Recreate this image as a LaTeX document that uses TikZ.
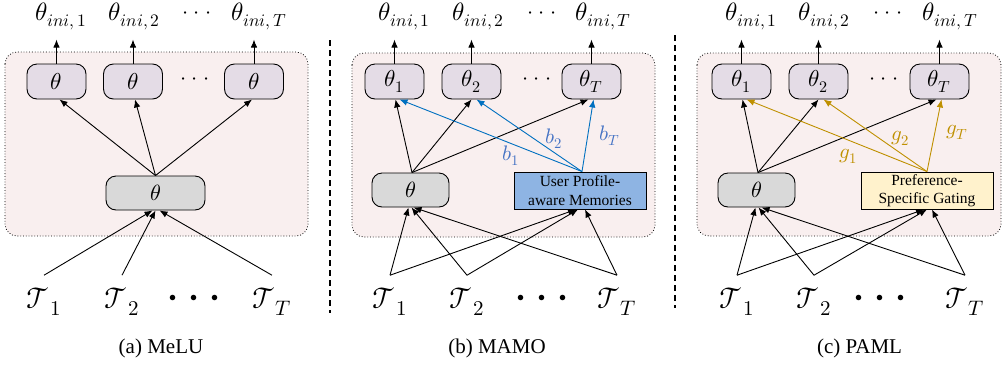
\documentclass[tikz,border=0pt]{standalone}
\usepackage{fontspec}
\usepackage{unicode-math}
\setmainfont{Liberation Serif}
\setmathfont{Latin Modern Math}
\usetikzlibrary{arrows.meta}
\definecolor{contfill}{RGB}{249,239,239}
\definecolor{topfill}{RGB}{228,220,230}
\definecolor{midfill}{RGB}{217,217,217}
\definecolor{upmfill}{RGB}{142,180,227}
\definecolor{psgfill}{RGB}{255,242,204}
\definecolor{bluearr}{RGB}{0,112,192}
\definecolor{bluelbl}{RGB}{68,114,196}
\definecolor{goldc}{RGB}{191,144,0}
\newcommand{\mydots}{$\cdot$\hspace{5pt}$\cdot$\hspace{5pt}$\cdot$}
\begin{document}
\begin{tikzpicture}[x=1pt,y=-1pt,
  arr/.style={-{Latex[length=8pt,width=6.5pt]}, line width=0.9pt},
  cont/.style={draw, dotted, line width=0.8pt, fill=contfill, rounded corners=12pt},
  topbox/.style={draw, line width=0.9pt, fill=topfill, rounded corners=10pt, minimum width=59pt, minimum height=35pt, inner sep=0pt, font=\fontsize{23}{27}\selectfont},
  midbox/.style={draw, line width=0.9pt, fill=midfill, rounded corners=10pt, minimum height=34pt, inner sep=0pt, font=\fontsize{22}{26}\selectfont},
  sidebox/.style={draw, line width=0.9pt, minimum width=132pt, minimum height=37pt, inner sep=0pt, align=center, font=\fontsize{15.5}{18.5}\selectfont},
  outlbl/.style={inner sep=0pt, outer ysep=10pt, anchor=base, font=\fontsize{25}{29}\selectfont},
  tasklbl/.style={inner sep=0pt, outer ysep=11pt, anchor=base, font=\fontsize{30}{34}\selectfont},
  dotsm/.style={inner sep=0pt, font=\fontsize{22}{26}\selectfont},
  dotsb/.style={inner sep=0pt, font=\fontsize{14}{16}\selectfont},
  wlbl/.style={inner sep=0pt, font=\fontsize{21}{25}\selectfont},
  captxt/.style={inner sep=0pt, font=\fontsize{21}{25}\selectfont},
  sepline/.style={line width=1.3pt, dash pattern=on 6pt off 4pt}
]
\useasboundingbox (0,0) rectangle (1002,368);

% separators
\draw[sepline] (330,40) -- (330,313);
\draw[sepline] (675,35) -- (675,308);

% ================= (a) MeLU =================
\draw[cont] (5,52) rectangle (308,236);
\node[topbox] (ta1) at (56.5,81.5) {$\theta$};
\node[topbox] (ta2) at (133,81.5) {$\theta$};
\node[topbox] (ta3) at (254,81.5) {$\theta$};
\node[dotsm] (tda) at (195,81.5) {\mydots};
\node[midbox, minimum width=99pt] (ca) at (155.5,193) {$\theta$};
\node[outlbl] (oa1) at (61,20) {$\theta_{ini,\,1}$};
\node[outlbl] (oa2) at (134.5,20) {$\theta_{ini,\,2}$};
\node[outlbl] (oa3) at (259,20) {$\theta_{ini,\,T}$};
\node[dotsm] (oda) at (197,15) {\mydots};
\node[tasklbl] (Ta1) at (44,308) {$\mathcal{T}_1$};
\node[tasklbl] (Ta2) at (122,308) {$\mathcal{T}_2$};
\node[tasklbl] (Ta3) at (272,308) {$\mathcal{T}_T$};
\node[dotsb] (Tda) at (194,298) {$\bullet$\hspace{14pt}$\bullet$\hspace{14pt}$\bullet$};
\draw[arr] (ta1.north) -- (ta1.north |- oa1.south);
\draw[arr] (ta2.north) -- (ta2.north |- oa2.south);
\draw[arr] (ta3.north) -- (ta3.north |- oa3.south);
\draw[arr] (ca.north) -- ([xshift=3pt]ta1.south);
\draw[arr] (ca.north) -- ([xshift=2pt]ta2.south);
\draw[arr] (ca.north) -- ([xshift=-2pt]ta3.south);
\draw[arr] ([yshift=1pt]Ta1.north) -- ([xshift=-3pt]ca.south);
\draw[arr] ([yshift=1pt]Ta2.north) -- ([xshift=0pt]ca.south);
\draw[arr] ([yshift=1pt]Ta3.north) -- ([xshift=4pt]ca.south);
\node[captxt] (capa) at (161,348) {(a) MeLU};

% ================= (b) MAMO =================
\draw[cont] (352,53) rectangle (655,237);
\node[topbox] (tb1) at (394.5,81.5) {$\theta_1$};
\node[topbox] (tb2) at (471.5,81.5) {$\theta_2$};
\node[topbox] (tb3) at (591.5,81.5) {$\theta_T$};
\node[dotsm] (tdb) at (537,81.5) {\mydots};
\node[midbox, minimum width=77pt] (cb) at (410.5,190) {$\theta$};
\node[sidebox, fill=upmfill] (upm) at (580,190.5) {User Profile-\\aware Memories};
\node[outlbl] (ob1) at (404.5,20) {$\theta_{ini,\,1}$};
\node[outlbl] (ob2) at (478.5,20) {$\theta_{ini,\,2}$};
\node[outlbl] (ob3) at (603.5,20) {$\theta_{ini,\,T}$};
\node[dotsm] (odb) at (542,15) {\mydots};
\node[tasklbl] (Tb1) at (390,308) {$\mathcal{T}_1$};
\node[tasklbl] (Tb2) at (467,308) {$\mathcal{T}_2$};
\node[tasklbl] (Tb3) at (617,308) {$\mathcal{T}_T$};
\node[dotsb] (Tdb) at (542,298) {$\bullet$\hspace{14pt}$\bullet$\hspace{14pt}$\bullet$};
\draw[arr] (tb1.north) -- (tb1.north |- ob1.south);
\draw[arr] (tb2.north) -- (tb2.north |- ob2.south);
\draw[arr] (tb3.north) -- (tb3.north |- ob3.south);
\draw[arr] ([xshift=1.5pt]cb.north) -- ([xshift=1pt]tb1.south);
\draw[arr] ([xshift=1.5pt]cb.north) -- (tb2.south);
\draw[arr] ([xshift=1.5pt]cb.north) -- ([xshift=-3pt]tb3.south);
\draw[arr, bluearr] ([xshift=2pt]upm.north) -- ([xshift=5pt]tb1.south);
\draw[arr, bluearr] ([xshift=2pt]upm.north) -- ([xshift=5pt]tb2.south);
\draw[arr, bluearr] ([xshift=2pt]upm.north) -- ([xshift=2pt]tb3.south);
\node[wlbl, text=bluelbl] (b1) at (511,156) {$b_1$};
\node[wlbl, text=bluelbl] (b2) at (554,139) {$b_2$};
\node[wlbl, text=bluelbl] (b3) at (610,136) {$b_T$};
\draw[arr] ([yshift=1pt]Tb1.north) -- ([xshift=-2pt]cb.south);
\draw[arr] ([yshift=1pt]Tb1.north) -- ([xshift=-4pt]upm.south);
\draw[arr] ([yshift=1pt]Tb2.north) -- ([xshift=1pt]cb.south);
\draw[arr] ([yshift=1pt]Tb2.north) -- ([xshift=-2pt]upm.south);
\draw[arr] ([yshift=1pt]Tb3.north) -- ([xshift=3pt]cb.south);
\draw[arr] ([yshift=1pt]Tb3.north) -- ([xshift=5pt]upm.south);
\node[captxt] (capb) at (497,348) {(b) MAMO};

% ================= (c) PAML =================
\draw[cont] (697,53) rectangle (1001,236);
\node[topbox] (tc1) at (741.5,81.5) {$\theta_1$};
\node[topbox] (tc2) at (818.5,81.5) {$\theta_2$};
\node[topbox] (tc3) at (939.5,81.5) {$\theta_T$};
\node[dotsm] (tdc) at (884,81.5) {\mydots};
\node[midbox, minimum width=77pt] (cc) at (756.5,190) {$\theta$};
\node[sidebox, fill=psgfill] (psg) at (927,190.5) {Preference-\\Specific Gating};
\node[outlbl] (oc1) at (751.5,20) {$\theta_{ini,\,1}$};
\node[outlbl] (oc2) at (824.5,20) {$\theta_{ini,\,2}$};
\node[outlbl] (oc3) at (950,20) {$\theta_{ini,\,T}$};
\node[dotsm] (odc) at (888,15) {\mydots};
\node[tasklbl] (Tc1) at (737,308) {$\mathcal{T}_1$};
\node[tasklbl] (Tc2) at (814,308) {$\mathcal{T}_2$};
\node[tasklbl] (Tc3) at (965,308) {$\mathcal{T}_T$};
\node[dotsb] (Tdc) at (880,298) {$\bullet$\hspace{14pt}$\bullet$\hspace{14pt}$\bullet$};
\draw[arr] (tc1.north) -- (tc1.north |- oc1.south);
\draw[arr] (tc2.north) -- (tc2.north |- oc2.south);
\draw[arr] (tc3.north) -- (tc3.north |- oc3.south);
\draw[arr] ([xshift=1.5pt]cc.north) -- ([xshift=1pt]tc1.south);
\draw[arr] ([xshift=1.5pt]cc.north) -- (tc2.south);
\draw[arr] ([xshift=1.5pt]cc.north) -- ([xshift=-3pt]tc3.south);
\draw[arr, goldc] (psg.north) -- ([xshift=5pt]tc1.south);
\draw[arr, goldc] (psg.north) -- ([xshift=5pt]tc2.south);
\draw[arr, goldc] (psg.north) -- ([xshift=2pt]tc3.south);
\node[wlbl, text=goldc] (g1) at (848,156) {$g_1$};
\node[wlbl, text=goldc] (g2) at (900,138) {$g_2$};
\node[wlbl, text=goldc] (g3) at (957,132) {$g_T$};
\draw[arr] ([yshift=1pt]Tc1.north) -- ([xshift=-1pt]cc.south);
\draw[arr] ([yshift=1pt]Tc1.north) -- ([xshift=-3pt]psg.south);
\draw[arr] ([yshift=1pt]Tc2.north) -- ([xshift=2pt]cc.south);
\draw[arr] ([yshift=1pt]Tc2.north) -- ([xshift=0pt]psg.south);
\draw[arr] ([yshift=1pt]Tc3.north) -- ([xshift=5pt]cc.south);
\draw[arr] ([yshift=1pt]Tc3.north) -- ([xshift=5pt]psg.south);
\node[captxt] (capc) at (859.5,348) {(c) PAML};
\end{tikzpicture}
\end{document}
